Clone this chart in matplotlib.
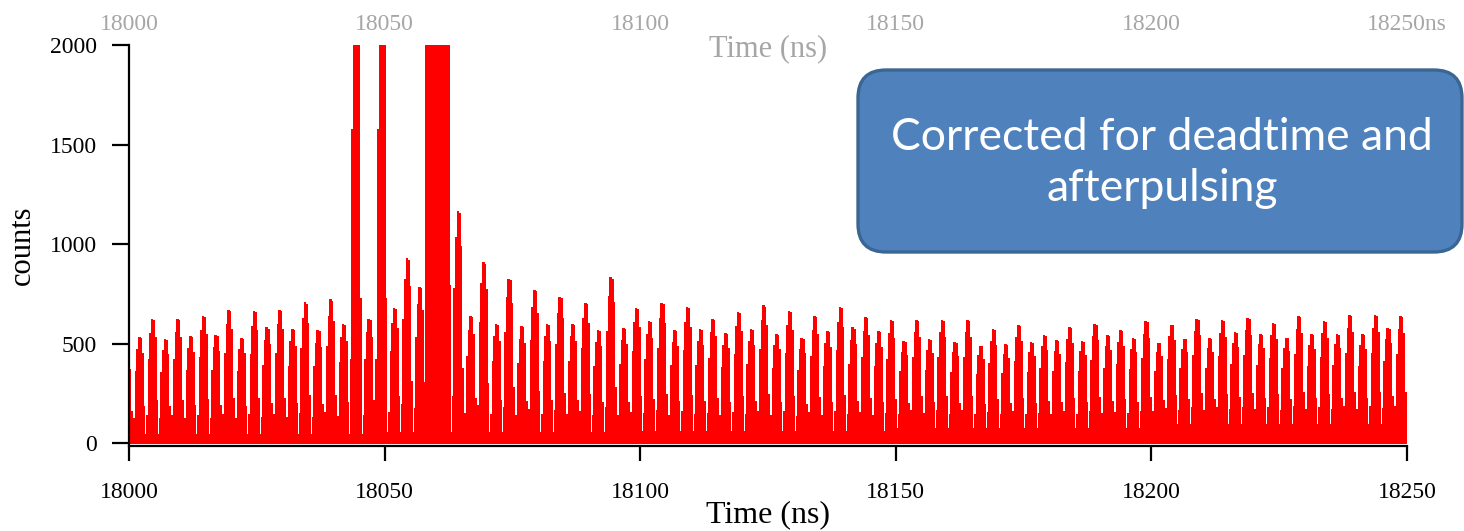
import numpy as np
import matplotlib
matplotlib.use("Agg")
import matplotlib.pyplot as plt
from matplotlib.patches import FancyBboxPatch
from matplotlib.transforms import IdentityTransform

# Peak heights (counts), one per laser pulse, peak 0 is cut at 18000 ns
peak_heights = [
    434, 529, 621, 522, 623, 534, 638, 539, 668, 526, 662, 578, 668, 571, 705, 564, 719,
    598, 2400, 623, 2400, 677, 925, 783, 2600, 2600, 1164, 636, 905, 598, 823, 586, 766, 598,
    732, 598, 702, 564, 830, 576, 678, 611, 702, 564, 682, 569, 623, 551, 655, 571, 689,
    547, 662, 526, 635, 559, 682, 578, 630, 559, 615, 509, 618, 520, 618, 504, 618, 487,
    571, 494, 593, 504, 539, 514, 581, 510, 598, 539, 564, 526, 610, 502, 593, 522, 623,
    526, 615, 553, 628, 547, 603, 527, 636, 544, 610, 547, 643, 544, 643, 576, 635,
]
# floor between peaks, rising slowly to the right (blocks of peaks)
floor_levels = [45, 55, 60, 75, 95]
floor_sizes = [21, 20, 20, 20, 20]
# shape of one peak over its 8 bins (relative height above floor)
peak_shape = [0.0, 0.16, 0.65, 0.88, 1.0, 0.99, 0.84, 0.29]

period = 2.492          # ns between pulses
t_first_edge = 18000    # bin 6 of peak 0 starts here

# the saturated burst around 18056-18062 ns
flash_start = 18056.1
flash_counts = [304] * 6 + [2600] * 12 + [1491, 1080, 783, 312]

x_ticks = [18000, 18050, 18100, 18150, 18200, 18250]
top_labels = ["18000", "18050", "18100", "18150", "18200", "18250ns"]

# ---- build histogram ----
bw = period / len(peak_shape)
floor = np.repeat(floor_levels, floor_sizes)
shape = np.array(peak_shape)
counts = np.concatenate([f + (h - f) * shape for h, f in zip(peak_heights, floor)])
edges = t_first_edge - 6 * bw + np.arange(len(counts) + 1) * bw

i0 = int(round((flash_start - edges[0]) / bw))
counts[i0:i0 + len(flash_counts)] = np.maximum(counts[i0:i0 + len(flash_counts)], flash_counts)

# ---- figure ----
W, H = 1464, 531
fig = plt.figure(figsize=(W / 100, H / 100), dpi=100)
ax = fig.add_axes([129 / W, 85 / H, 1278 / W, 401 / H])

# no antialiasing: keeps the narrow bins crisp like the original screenshot
ax.fill_between(edges, np.append(counts, counts[-1]), step="post",
                facecolor="#ff0000", edgecolor="none", antialiased=False)

ax.set_xlim(18000, 18250)
ax.set_ylim(-15, 2000)
ax.set_xticks(x_ticks)
ax.set_yticks([0, 500, 1000, 1500, 2000])

serif = "Liberation Serif"
for s in ["top", "right"]:
    ax.spines[s].set_visible(False)
for s in ["left", "bottom"]:
    ax.spines[s].set_linewidth(1.6)
ax.tick_params(axis="x", direction="out", length=11, width=1.6, pad=15, labelsize=17)
ax.tick_params(axis="y", direction="out", length=12, width=1.6, pad=11, labelsize=17)
for lab in ax.get_xticklabels() + ax.get_yticklabels():
    lab.set_fontfamily(serif)

# faded top axis labels
top = ax.secondary_xaxis("top")
top.set_xticks(x_ticks, labels=top_labels)
top.tick_params(length=0, pad=7, labelsize=17, labelcolor="#a6a6a6")
top.spines["top"].set_visible(False)
for lab in top.get_xticklabels():
    lab.set_fontfamily(serif)
ax.text(0.5, 0.99, "Time (ns)", transform=ax.transAxes, ha="center", va="center",
        fontsize=22, color="#a6a6a6", family=serif)

fig.text(768 / W, 1 - 515 / H, "Time (ns)", ha="center", va="center", fontsize=23, family=serif)
fig.text(22 / W, 1 - 245 / H, "counts", rotation=90, ha="center", va="center",
         fontsize=22, family=serif)

# callout box
box = FancyBboxPatch((858, H - 252), 604, 182, boxstyle="round,pad=0,rounding_size=28",
                     transform=IdentityTransform(), facecolor="#4f81bd",
                     edgecolor="#3a6694", linewidth=2.4)
fig.add_artist(box)
fig.text(1162 / W, 1 - 163 / H, "Corrected for deadtime and\nafterpulsing", ha="center",
         va="center", fontsize=32, color="white", family="Lato", linespacing=1.3)

fig.savefig("out.png", dpi=100)
